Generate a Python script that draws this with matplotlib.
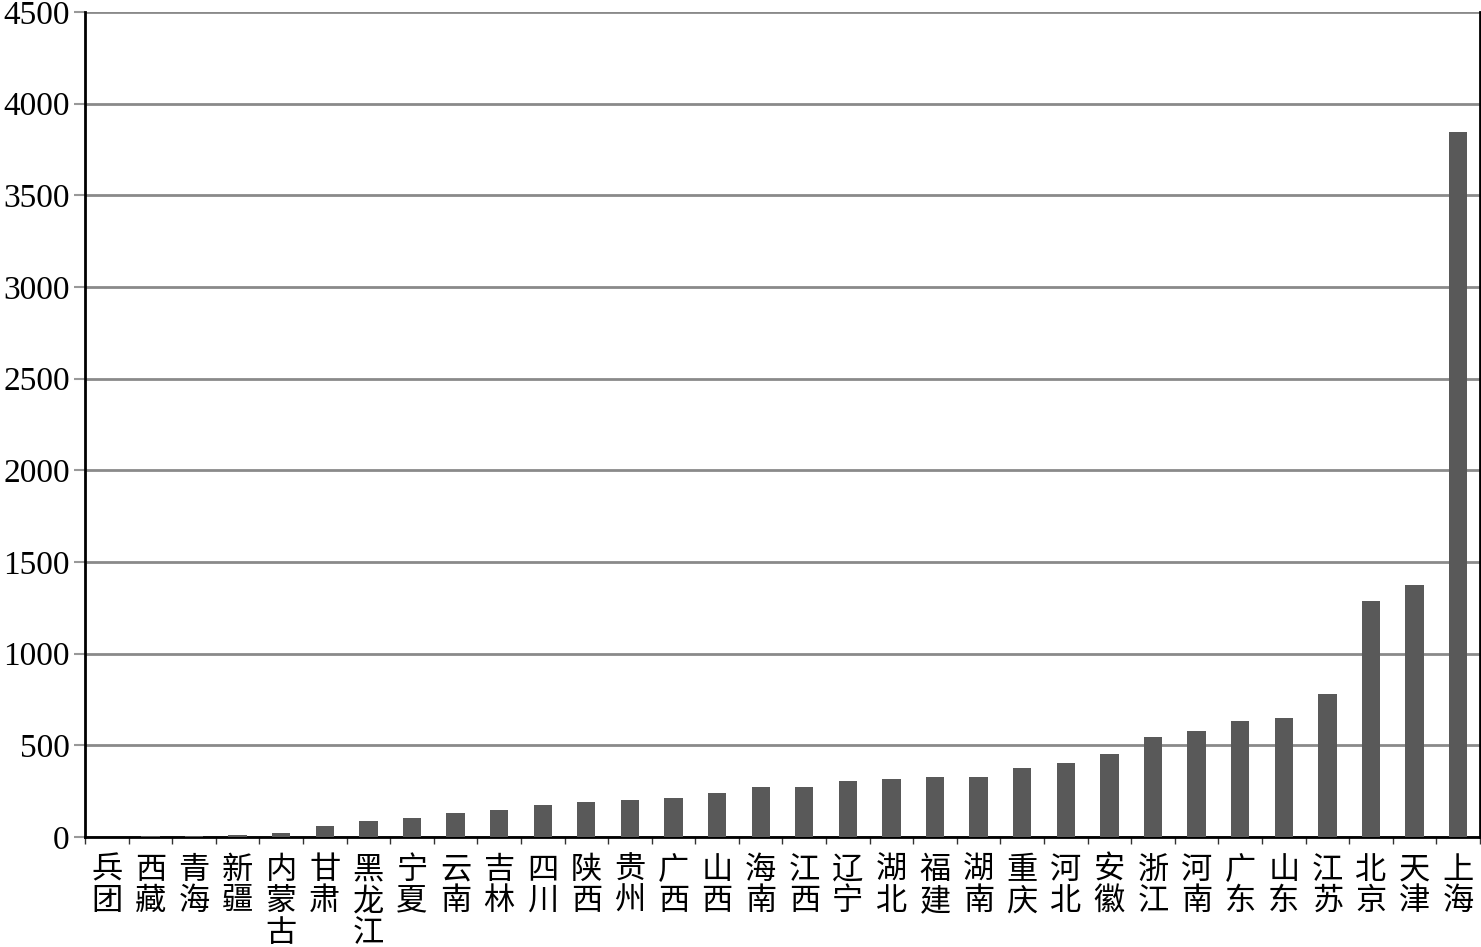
import numpy as np
import matplotlib.pyplot as plt

plt.rcParams['font.family'] = ['Liberation Serif', 'Noto Sans CJK SC']

regions = ["兵团", "西藏", "青海", "新疆", "内蒙古", "甘肃", "黑龙江", "宁夏",
           "云南", "吉林", "四川", "陕西", "贵州", "广西", "山西", "海南",
           "江西", "辽宁", "湖北", "福建", "湖南", "重庆", "河北", "安徽",
           "浙江", "河南", "广东", "山东", "江苏", "北京", "天津", "上海"]
values = [2, 3, 5, 12, 22, 60, 87, 105,
          130, 145, 172, 190, 200, 210, 241, 274,
          272, 303, 317, 328, 326, 377, 401, 450,
          548, 578, 630, 650, 782, 1287, 1373, 3843]
yticks = [0, 500, 1000, 1500, 2000, 2500, 3000, 3500, 4000, 4500]

fig = plt.figure(figsize=(14.81, 9.47), dpi=100)
ax = fig.add_axes([0.0574, 0.1162, 0.9419, 0.8711])

x = np.arange(len(regions))
ax.bar(x, values, width=0.42, color="#595959", zorder=3)

ax.set_xlim(-0.5, len(regions) - 0.5)
ax.set_ylim(0, 4500)
ax.set_yticks(yticks)
ax.set_yticklabels([str(t) for t in yticks], fontsize=24)
ax.grid(axis="y", color="#8a8a8a", linewidth=2, zorder=0)
ax.tick_params(axis="y", length=8, width=1.5, color="#999999", pad=3)

# stacked vertical labels
ax.set_xticks(x)
ax.set_xticklabels(["\n".join(r) for r in regions],
                   family=['Noto Sans CJK SC'], fontsize=22.5,
                   linespacing=0.98, va="top")
ax.tick_params(axis="x", length=0, pad=12)
ax.set_xticks(np.arange(-0.5, len(regions)), minor=True)
ax.tick_params(axis="x", which="minor", length=5, width=1, color="#333333")

for side in ["left", "bottom", "right"]:
    ax.spines[side].set_color("black")
    ax.spines[side].set_linewidth(2)
ax.spines["top"].set_visible(False)

fig.savefig("out.png", dpi=100)
